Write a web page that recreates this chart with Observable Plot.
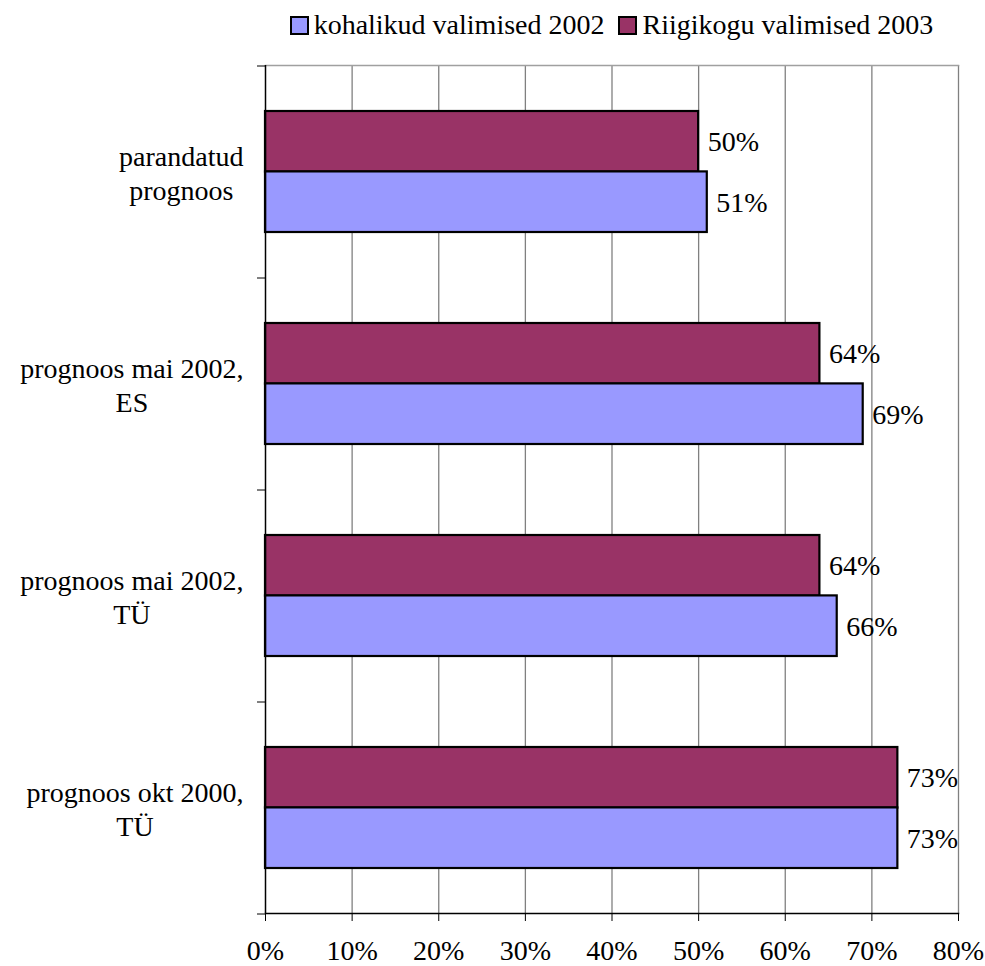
<!DOCTYPE html>
<html>
<head>
<meta charset="utf-8">
<script src="https://cdn.jsdelivr.net/npm/d3@7"></script>
<script src="https://cdn.jsdelivr.net/npm/@observablehq/plot@0.6"></script>
<style>
  html, body { margin: 0; padding: 0; background: #fff; }
  #wrap { position: relative; width: 985px; height: 966px; font-family: "Liberation Serif", "DejaVu Serif", "Tinos", "Noto Serif", "FreeSerif", "Nimbus Roman", "Noto Serif CJK SC", "Times New Roman", serif; }
  #legend { position: absolute; top: 5px; left: 265px; width: 693px; height: 40px;
            display: flex; justify-content: center; align-items: center; font-size: 28px; color: #000; white-space: nowrap; }
  .item { display: flex; align-items: center; margin: 0 7px; }
  .sw { width: 15px; height: 15px; border: 2px solid #000; margin-right: 5px; }
  #chart svg, #chart svg text { font-family: "Liberation Serif", "DejaVu Serif", "Tinos", "Noto Serif", "FreeSerif", "Nimbus Roman", "Noto Serif CJK SC", "Times New Roman", serif !important; }
</style>
</head>
<body>
<div id="wrap"><div id="legend"></div><div id="chart"></div></div>
<script>
const categories = ["parandatud\nprognoos", "prognoos mai 2002,\nES", "prognoos mai 2002,\nTÜ", "prognoos okt 2000,\nTÜ"];
const seriesNames = ["kohalikud valimised 2002", "Riigikogu valimised 2003"];
const seriesColors = ["#9999FF", "#993366"];
const kohalikud = [51, 69, 66, 73];
const riigikogu = [50, 64, 64, 73];
const xTicks = [0, 10, 20, 30, 40, 50, 60, 70, 80];

const dataK = categories.map((c, i) => ({category: c, value: kohalikud[i]}));
const dataR = categories.map((c, i) => ({category: c, value: riigikogu[i]}));

// legend
const legend = document.getElementById("legend");
seriesNames.forEach((name, i) => {
  const it = document.createElement("div");
  it.className = "item";
  const sw = document.createElement("div");
  sw.className = "sw";
  sw.style.background = seriesColors[i];
  const t = document.createElement("span");
  t.textContent = name;
  it.appendChild(sw); it.appendChild(t);
  legend.appendChild(it);
});

const half = 60.4;
const plot = Plot.plot({
  width: 985,
  height: 966,
  marginLeft: 265,
  marginRight: 27,
  marginTop: 65,
  marginBottom: 53,
  style: {fontSize: "28px", color: "#000", background: "transparent"},
  x: {domain: [0, 80]},
  y: {domain: categories, paddingInner: 0.43, paddingOuter: 0.215},
  marks: [
    Plot.ruleX(xTicks.slice(1), {stroke: "#808080", strokeWidth: 1.3}),
    Plot.frame({anchor: "top", stroke: "#a0a0a0", strokeWidth: 1.5}),
    Plot.barX(dataR, {x: "value", y: "category", fill: seriesColors[1], stroke: "#000", strokeWidth: 2.2, insetBottom: half}),
    Plot.barX(dataK, {x: "value", y: "category", fill: seriesColors[0], stroke: "#000", strokeWidth: 2.2, insetTop: half}),
    Plot.text(dataR, {x: "value", y: "category", text: d => d.value + "%", textAnchor: "start", dx: 9, dy: -30, fill: "#000", fontSize: 28}),
    Plot.text(dataK, {x: "value", y: "category", text: d => d.value + "%", textAnchor: "start", dx: 9, dy: 31, fill: "#000", fontSize: 28}),
    Plot.ruleX([0], {stroke: "#000", strokeWidth: 1.5}),
    Plot.frame({anchor: "bottom", stroke: "#000", strokeWidth: 1.5}),
    Plot.axisX({ticks: xTicks, tickFormat: d => d + "%", tickSize: 8, tickPadding: 19, fontSize: 28, label: null, stroke: "#000"}),
    Plot.axisY({tickSize: 8, dy: -106, tickFormat: () => "", label: null, stroke: "#000"}),
    Plot.axisY({ticks: [categories[categories.length - 1]], tickSize: 8, dy: 106, tickFormat: () => "", label: null, stroke: "#000"}),
    Plot.axisY({tickSize: 0, tickPadding: 22, fontSize: 28, lineHeight: 1.2, label: null})
  ]
});
document.getElementById("chart").appendChild(plot);

// center the lines of each category label within its right-aligned block
d3.select(plot).selectAll('g[aria-label="y-axis tick label"] text').each(function() {
  if (!this.textContent.trim()) return;
  const w = this.getBBox().width;
  this.setAttribute("text-anchor", "middle");
  this.style.textAnchor = "middle";
  d3.select(this).selectAll("tspan").attr("x", -w / 2);
});
</script>
</body>
</html>
